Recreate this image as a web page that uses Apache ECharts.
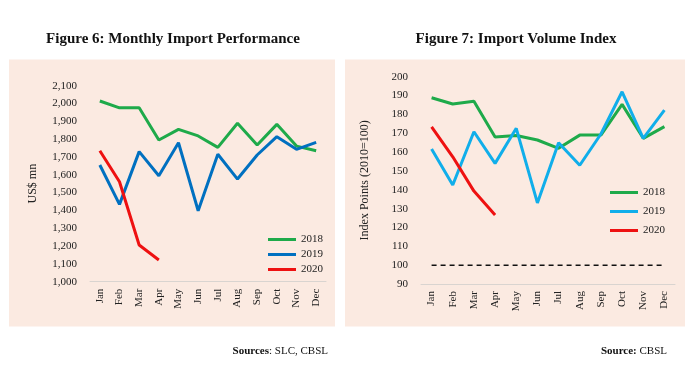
<!DOCTYPE html>
<html>
<head>
<meta charset="utf-8">
<script src="https://cdn.jsdelivr.net/npm/echarts@6/dist/echarts.min.js"></script>
<style>html,body{margin:0;padding:0;background:#fff;}#c{width:700px;height:367px;}</style>
</head>
<body>
<div id="c"></div>
<script>
const months = ['Jan','Feb','Mar','Apr','May','Jun','Jul','Aug','Sep','Oct','Nov','Dec'];
// Figure 6: Monthly Import Performance (US$ mn)
const imp2018 = [2014, 1976, 1976, 1795, 1855, 1818, 1754, 1889, 1767, 1883, 1761, 1735];
const imp2019 = [1655, 1434, 1730, 1595, 1780, 1398, 1715, 1576, 1711, 1814, 1743, 1782];
const imp2020 = [1735, 1561, 1206, 1122];
// Figure 7: Import Volume Index (2010=100)
const vol2018 = [188.8, 185.5, 187, 168, 168.8, 166.4, 162, 169, 169, 185.3, 167.3, 173.5];
const vol2019 = [161.6, 142.5, 170.8, 154, 172.6, 133, 165, 153, 169.6, 192, 167.3, 182.3];
const vol2020 = [173.4, 157.5, 139.3, 126.6];
const baseLine = [100, 100, 100, 100, 100, 100, 100, 100, 100, 100, 100, 100];
const years = ['2018', '2019', '2020'];

const FONT = '"Liberation Serif", "DejaVu Serif", serif';
const PANEL = '#fbeae1';
const GREEN = '#1eaa4a', BLUE = '#0070c0', LBLUE = '#10aeea', RED = '#ee1111';

const chart = echarts.init(document.getElementById('c'), null, {renderer: 'canvas'});

function lineSeries(name, data, color, xi) {
  return {
    type: 'line', name: name, data: data, xAxisIndex: xi, yAxisIndex: xi,
    symbol: 'none', smooth: false, silent: true,
    lineStyle: {color: color, width: 3}, itemStyle: {color: color}
  };
}

const axisLabelStyle = {fontFamily: FONT, fontSize: 11, color: '#222'};
const srcRich = {
  b: {fontFamily: FONT, fontSize: 11, fontWeight: 'bold', color: '#111'},
  n: {fontFamily: FONT, fontSize: 11, fontWeight: 'normal', color: '#111'}
};

chart.setOption({
  animation: false,
  backgroundColor: '#ffffff',
  textStyle: {fontFamily: FONT},
  graphic: [
    {type: 'rect', shape: {x: 9, y: 59.5, width: 326, height: 267}, style: {fill: PANEL}, z: -10},
    {type: 'rect', shape: {x: 345, y: 59.5, width: 340, height: 267}, style: {fill: PANEL}, z: -10}
  ],
  title: [
    {text: 'Figure 6: Monthly Import Performance', left: 168, top: 27, textAlign: 'center',
     textStyle: {fontFamily: FONT, fontSize: 15, fontWeight: 'bold', color: '#111'}},
    {text: 'Figure 7: Import Volume Index', left: 511, top: 27, textAlign: 'center',
     textStyle: {fontFamily: FONT, fontSize: 15, fontWeight: 'bold', color: '#111'}},
    {text: '{b|Sources}{n|: SLC, CBSL}', left: 323, top: 341, textAlign: 'right',
     textStyle: {fontWeight: 'normal', rich: srcRich}},
    {text: '{b|Source:}{n| CBSL}', left: 662, top: 341, textAlign: 'right',
     textStyle: {fontWeight: 'normal', rich: srcRich}}
  ],
  legend: [
    {data: years.map(y => 'L' + y), formatter: n => n.slice(1), orient: 'vertical',
     left: 263, top: 229, itemWidth: 28, itemHeight: 3, itemGap: 4, icon: 'rect',
     textStyle: {fontFamily: FONT, fontSize: 11, color: '#222'}, selectedMode: false},
    {data: years.map(y => 'R' + y), formatter: n => n.slice(1), orient: 'vertical',
     left: 605, top: 182, itemWidth: 28, itemHeight: 3, itemGap: 8, icon: 'rect',
     textStyle: {fontFamily: FONT, fontSize: 11, color: '#222'}, selectedMode: false}
  ],
  grid: [
    {left: 90, right: 374, top: 85.7, bottom: 85.3},
    {left: 421, right: 25, top: 76.7, bottom: 83}
  ],
  xAxis: [0, 1].map(i => ({
    type: 'category', gridIndex: i, data: months, boundaryGap: true,
    axisLine: {lineStyle: {color: '#d9d4d0', width: 1}}, axisTick: {show: false},
    axisLabel: Object.assign({rotate: 90, margin: 7, interval: 0}, axisLabelStyle)
  })),
  yAxis: [
    {type: 'value', gridIndex: 0, min: 1000, max: 2100, interval: 100,
     name: 'US$ mn', nameLocation: 'middle', nameGap: 51, nameRotate: 90,
     nameTextStyle: {fontFamily: FONT, fontSize: 12, color: '#222'},
     axisLine: {show: false}, axisTick: {show: false}, splitLine: {show: false},
     axisLabel: Object.assign({margin: 13, formatter: v => v.toLocaleString('en-US')}, axisLabelStyle)},
    {type: 'value', gridIndex: 1, min: 90, max: 200, interval: 10,
     name: 'Index Points (2010=100)', nameLocation: 'middle', nameGap: 50, nameRotate: 90,
     nameTextStyle: {fontFamily: FONT, fontSize: 12, color: '#222'},
     axisLine: {show: false}, axisTick: {show: false}, splitLine: {show: false},
     axisLabel: Object.assign({margin: 13}, axisLabelStyle)}
  ],
  series: [
    lineSeries('L2018', imp2018, GREEN, 0),
    lineSeries('L2019', imp2019, BLUE, 0),
    lineSeries('L2020', imp2020, RED, 0),
    {type: 'line', name: 'base', data: baseLine, xAxisIndex: 1, yAxisIndex: 1, symbol: 'none', silent: true,
     lineStyle: {color: '#111', width: 1.5, type: [5, 4]}, z: 1},
    lineSeries('R2018', vol2018, GREEN, 1),
    lineSeries('R2019', vol2019, LBLUE, 1),
    lineSeries('R2020', vol2020, RED, 1)
  ]
});
</script>
</body>
</html>
